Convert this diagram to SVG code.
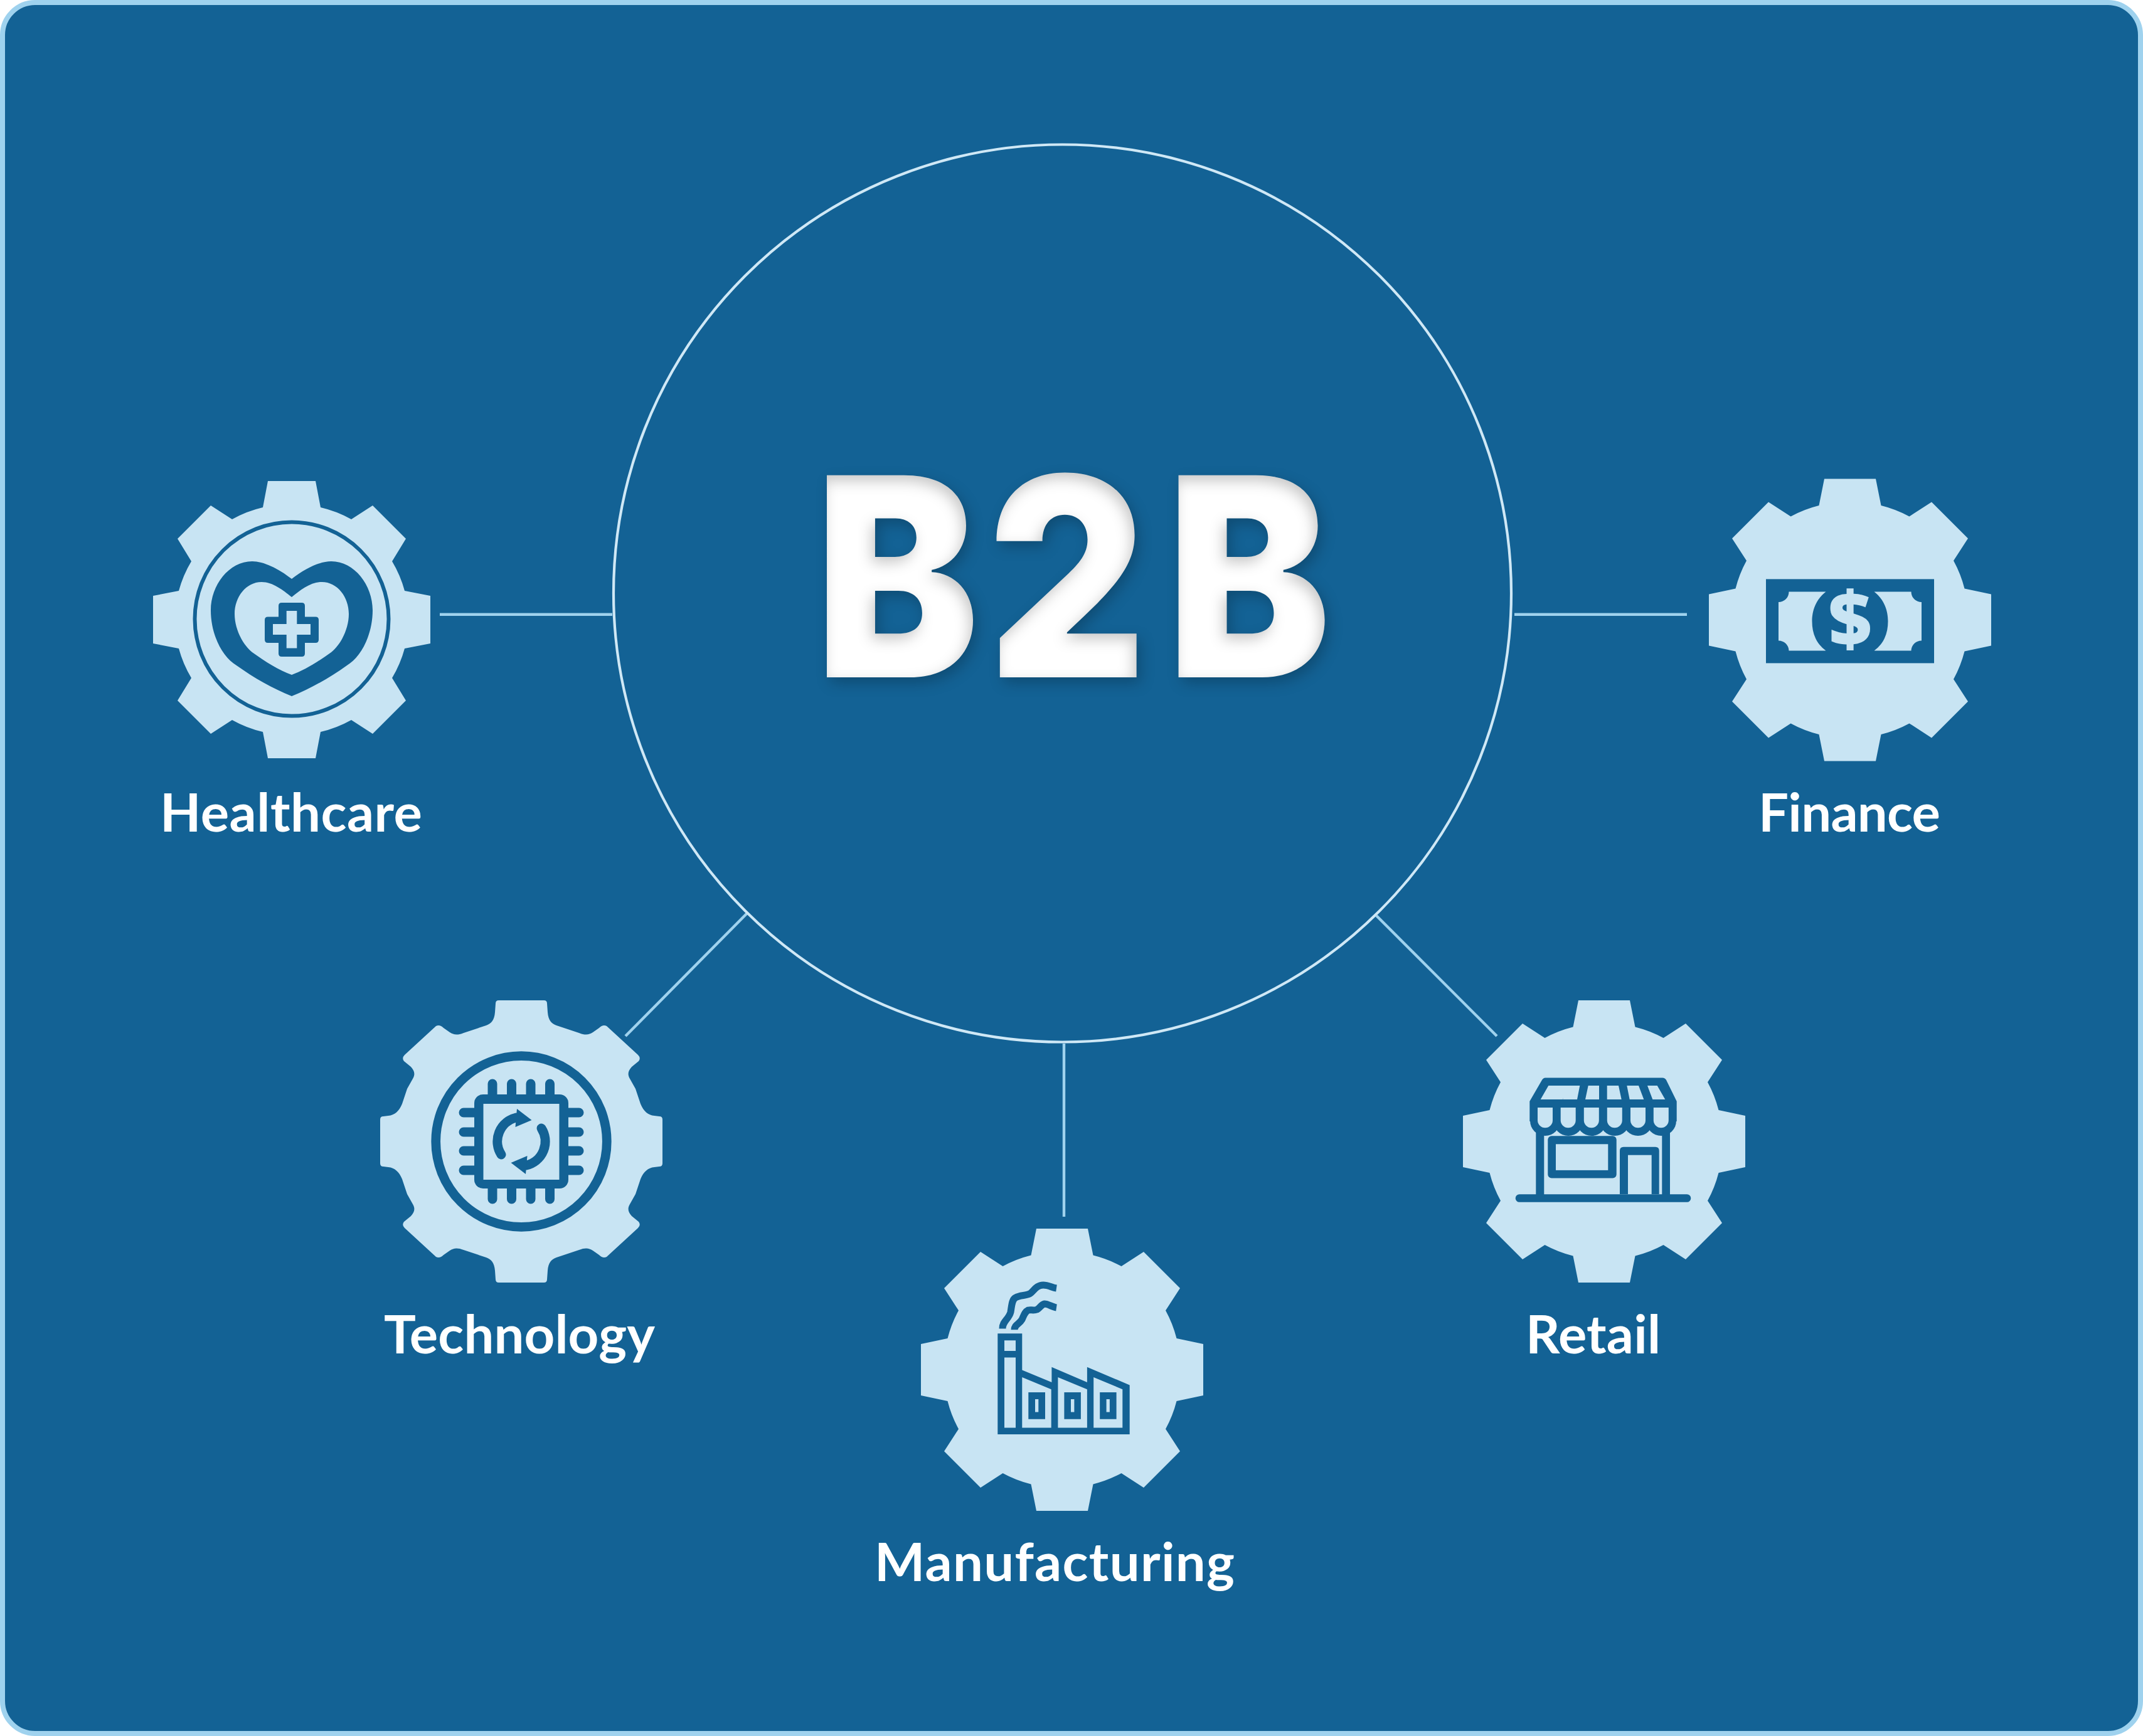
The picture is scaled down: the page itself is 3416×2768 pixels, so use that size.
<svg xmlns="http://www.w3.org/2000/svg" xmlns:xlink="http://www.w3.org/1999/xlink" width="3416" height="2768" viewBox="0 0 3416 2768">
<style>
.gear,.lt{fill:#c8e4f3}
.dk{fill:#136295}
.sd{fill:none;stroke:#136295}
.conn{fill:none;stroke:#9fd2ee;stroke-width:4.4}
.lbl{font-family:"Lato","Noto Sans",sans-serif;font-weight:700;font-size:85px;fill:#fff}
.pin{stroke-width:15;stroke-linecap:round}
</style>
<defs>
<filter id="tshadow" filterUnits="userSpaceOnUse" x="1200" y="640" width="1020" height="560" color-interpolation-filters="sRGB">
<feGaussianBlur in="SourceAlpha" stdDeviation="11" result="b"/>
<feOffset in="b" dx="6" dy="9" result="o"/>
<feFlood flood-color="#000" flood-opacity="0.22"/>
<feComposite in2="o" operator="in" result="outer"/>
<feOffset in="b" dx="-5" dy="9" result="o2"/>
<feComposite in="SourceAlpha" in2="o2" operator="out" result="rim"/>
<feFlood flood-color="#000" flood-opacity="0.22"/>
<feComposite in2="rim" operator="in" result="inner"/>
<feMerge><feMergeNode in="outer"/><feMergeNode in="SourceGraphic"/><feMergeNode in="inner"/></feMerge>
</filter>
<path id="gear" d="M-41,-225H41L49.5,-182.5A190,190 0 0 1 94.5,-165L130,-188L188,-130L165,-94.5A190,190 0 0 1 182.5,-50L225,-41V41L182.5,50A190,190 0 0 1 165,94.5L188,130L130,188L94.5,165A190,190 0 0 1 49.5,182.5L41,225H-41L-49.5,182.5A190,190 0 0 1 -94.5,165L-130,188L-188,130L-165,94.5A190,190 0 0 1 -182.5,50L-225,41V-41L-182.5,-50A190,190 0 0 1 -165,-94.5L-188,-130L-130,-188L-94.5,-165A190,190 0 0 1 -49.5,-182.5Z"/>
<path id="bill" d="M-97.5,-44.8H-38.5C-55,-32 -60.5,-14 -60.5,2C-60.5,20 -55,37 -38.5,49H-97.5A16.5,16.5 0 0 0 -114,33V-28.3A16.5,16.5 0 0 0 -97.5,-44.8Z"/>
<g id="cyc"><path class="sd" stroke-width="15" stroke-linecap="round" d="M-32,21A39,39 0 0 1 -8,-38"/><path class="dk" d="M16.5,-34L-7,-52L-9.5,-23Z"/></g>
<path id="scal" d="M-12,-54H12V-33.7A12,12 0 0 1 -12,-33.7Z"/>
</defs>

<rect id="panel" x="4" y="4" width="3408" height="2760" rx="52" ry="52" fill="#136295" stroke="#9fd2ee" stroke-width="8"/>

<g id="connectors">
<line class="conn" x1="701" y1="979.7" x2="976" y2="979.7"/>
<line class="conn" x1="2414" y1="979.7" x2="2689" y2="979.7"/>
<line class="conn" x1="1192" y1="1455" x2="997" y2="1652"/>
<line class="conn" x1="2194" y1="1460" x2="2386" y2="1652"/>
<line class="conn" x1="1696" y1="1664" x2="1696" y2="1940"/>
</g>

<g id="b2b">
<circle cx="1693.5" cy="946" r="715.5" fill="none" stroke="#cfe8f6" stroke-width="4.2"/>
<g filter="url(#tshadow)">
<text transform="scale(.88,1)" x="1477 1790 2114" y="1080" font-family="Inter,'Noto Sans',sans-serif" font-weight="900" font-size="443" fill="#fff">B2B</text>
</g>
</g>

<g id="healthcare">
<path class="gear" transform="translate(465,988)" d="M-38,-221H38L46,-179A186,186 0 0 1 95,-160L129,-182L182,-129L160,-93A186,186 0 0 1 180,-46L221,-38V38L180,46A186,186 0 0 1 160,93L182,129L129,182L95,160A186,186 0 0 1 46,179L38,221H-38L-46,179A186,186 0 0 1 -95,160L-129,182L-182,129L-160,93A186,186 0 0 1 -180,46L-221,38V-38L-180,-46A186,186 0 0 1 -160,-93L-182,-129L-129,-182L-95,-160A186,186 0 0 1 -46,-179Z"/>
<g transform="translate(465,988)">
<circle class="sd" cy="-1" r="154.5" stroke-width="6"/>
<path class="dk" d="M0,-65C-22,-82 -45,-93 -63,-93C-100,-93 -129,-55 -129,-15C-129,25 -110,60 -88,73C-60,93 -30,110 0,122C30,110 60,93 88,73C110,60 129,25 129,-15C129,-55 100,-93 63,-93C45,-93 22,-82 0,-65Z"/>
<path class="lt" d="M0,-36C-14,-47 -30,-60 -48,-60C-73,-60 -91,-36 -91,-9C-91,15 -78,40 -63,52C-42,67 -20,81 0,88C20,81 42,67 63,52C78,40 91,15 91,-9C91,-36 73,-60 48,-60C30,-60 14,-47 0,-36Z"/>
<path class="dk" d="M-16,-27H16Q21,-27 21,-22V-4.6H38Q43,-4.6 43,0.4V32Q43,37 38,37H21V54Q21,59 16,59H-16Q-21,59 -21,54V37H-38Q-43,37 -43,32V0.4Q-43,-4.6 -38,-4.6H-21V-22Q-21,-27 -16,-27Z"/>
<path class="lt" d="M-8.3,-14H8.3V7H30V24H8.3V45.5H-8.3V24H-30V7H-8.3Z"/>
</g>
<text class="lbl" x="255" y="1326" textLength="418">Healthcare</text>
</g>

<g id="finance">
<use xlink:href="#gear" href="#gear" class="gear" transform="translate(2949,988.4)"/>
<g transform="translate(2949,988.4)">
<rect class="dk" x="-134" y="-65" width="268" height="134"/>
<use xlink:href="#bill" href="#bill" class="lt"/>
<use xlink:href="#bill" href="#bill" class="lt" transform="scale(-1,1)"/>
<text x="0" y="42" text-anchor="middle" font-family="'Open Sans','Noto Sans',sans-serif" font-weight="800" font-size="120" fill="#c8e4f3">$</text>
</g>
<text class="lbl" x="2803" y="1326" textLength="290">Finance</text>
</g>

<g id="technology">
<g transform="translate(831,1820)">
<path class="gear" d="M-36,-225H36Q41,-225 41,-220L42,-206C43,-193 48,-188 56,-185L92,-173C102,-169 108,-170 114,-174L124,-181Q130,-187 136,-184L186,-138Q191,-133 187,-128L176,-119C170,-112 169,-107 173,-100L182,-84L190,-60C195,-48 202,-42 212,-41L220,-40Q225,-40 225,-35V35Q225,40 220,40L212,41C202,42 195,48 190,60L182,84L173,100C169,107 170,112 176,119L187,128Q191,133 186,138L136,184Q130,187 124,181L114,174C108,170 102,169 92,173L56,185C48,188 43,193 42,206L41,220Q41,225 36,225H-36Q-41,225 -41,220L-42,206C-43,193 -48,188 -56,185L-92,173C-102,169 -108,170 -114,174L-124,181Q-130,187 -136,184L-186,138Q-191,133 -187,128L-176,119C-170,112 -169,107 -173,100L-182,84L-190,60C-195,48 -202,42 -212,41L-220,40Q-225,40 -225,35V-35Q-225,-40 -220,-40L-212,-41C-202,-42 -195,-48 -190,-60L-182,-84L-173,-100C-169,-107 -170,-112 -176,-119L-187,-128Q-191,-133 -186,-138L-136,-184Q-130,-187 -124,-181L-114,-174C-108,-170 -102,-169 -92,-173L-56,-185C-48,-188 -43,-193 -42,-206L-41,-220Q-41,-225 -36,-225Z"/>
<circle class="sd" r="136.3" stroke-width="14.7"/>
<g class="sd pin">
<path d="M-46,-75V-92M-15.5,-75V-92M15,-75V-92M45.5,-75V-92M-46,75V92M-15.5,75V92M15,75V92M45.5,75V92M-75,-46H-92M-75,-15H-92M-75,15H-92M-75,46H-92M75,-46H92M75,-15H92M75,15H92M75,46H92"/>
</g>
<rect class="dk" x="-75" y="-75" width="150" height="150" rx="14"/>
<rect class="lt" x="-60.5" y="-60" width="121" height="121"/>
<use xlink:href="#cyc" href="#cyc"/>
<use xlink:href="#cyc" href="#cyc" transform="rotate(180)"/>
</g>
<text class="lbl" x="612" y="2158" textLength="432">Technology</text>
</g>

<g id="manufacturing">
<use xlink:href="#gear" href="#gear" class="gear" transform="translate(1693,2184)"/>
<g transform="translate(1693,2184)">
<path class="dk" d="M-102.7,-57.7H-63.7V0.4L-16.6,20V-4.3L39.9,20V-4.3L107.7,24.5V103H-102.7Z"/>
<path class="lt" d="M-92,-46.7H-74V-30H-92ZM-92,-19.4H-74V92.5H-92ZM-63.7,11.9L-17.3,31.2V92.5H-63.7ZM-6.6,11.9L39.9,31.2V92.5H-6.6ZM50.2,11.9L96.3,31.2V92.5H50.2Z"/>
<path class="dk" d="M-53.7,36H-27V78.7H-53.7ZM3.4,36H29.9V78.7H3.4ZM60.2,36H86.6V78.7H60.2Z"/>
<path class="lt" d="M-43,47H-37.7V67.6H-43ZM14,47H19.4V67.6H14ZM70.6,47H75.9V67.6H70.6Z"/>
<path class="sd" stroke-width="11" d="M-95,-65.6C-95,-78 -85,-80 -82,-92C-80,-104 -80,-112 -74,-115C-68,-119 -58,-118 -52,-121C-46,-124 -42,-135 -30,-135C-22,-135 -16,-131 -9,-130"/>
<path class="sd" stroke-width="11" d="M-76,-63.7C-76,-72 -68,-73 -64,-80C-61,-86 -60,-92 -54,-95C-50,-96 -45,-94 -40,-96C-36,-98 -33,-104 -28,-105C-22,-105 -16,-100 -9,-99"/>
</g>
<text class="lbl" x="1394" y="2521" textLength="574">Manufacturing</text>
</g>

<g id="retail">
<use xlink:href="#gear" href="#gear" class="gear" transform="translate(2557,1820)"/>
<g transform="translate(2557,1820)">
<path class="sd" stroke-width="12.6" stroke-linecap="round" d="M-135,90.5H132"/>
<path class="dk" d="M-108.7,-30H-95.7V90H-108.7ZM92.3,-30H105V90H92.3Z"/>
<path class="dk" d="M-93.7,-101.6H93Q97,-101.6 99,-98L115.7,-64V-32H-118.7V-64L-99,-98Q-97,-101.6 -93.7,-101.6Z"/>
<circle class="dk" cx="-94" cy="-33" r="24"/><circle class="dk" cx="-57" cy="-33" r="24"/><circle class="dk" cx="-20" cy="-33" r="24"/><circle class="dk" cx="17" cy="-33" r="24"/><circle class="dk" cx="54" cy="-33" r="24"/><circle class="dk" cx="91" cy="-33" r="24"/>
<path class="lt" d="M-88.7,-89H-55L-66.3,-67H-101.3ZM-57,-89H-38.7L-43,-67H-66ZM-25.3,-89H-8V-67H-30ZM4.7,-89H23L27.7,-67H4.7ZM36.3,-89H55L63.3,-67H40.7ZM69,-89H84.7L97.3,-67H77.3Z"/>
<use xlink:href="#scal" href="#scal" class="lt" x="-94"/><use xlink:href="#scal" href="#scal" class="lt" x="-57.3"/><use xlink:href="#scal" href="#scal" class="lt" x="-20.2"/><use xlink:href="#scal" href="#scal" class="lt" x="16.8"/><use xlink:href="#scal" href="#scal" class="lt" x="54"/><use xlink:href="#scal" href="#scal" class="lt" x="90.8"/>
<rect class="dk" x="-89.7" y="-8.7" width="109.4" height="67.2" rx="6"/>
<rect class="lt" x="-77" y="4.3" width="83.3" height="41.6"/>
<path class="dk" d="M25,84V14.7Q25,8.7 31,8.7H81.7Q87.7,8.7 87.7,14.7V84Z"/>
<rect class="lt" x="38" y="21.7" width="37.7" height="62.3"/>
</g>
<text class="lbl" x="2432" y="2158" textLength="215">Retail</text>
</g>
</svg>
